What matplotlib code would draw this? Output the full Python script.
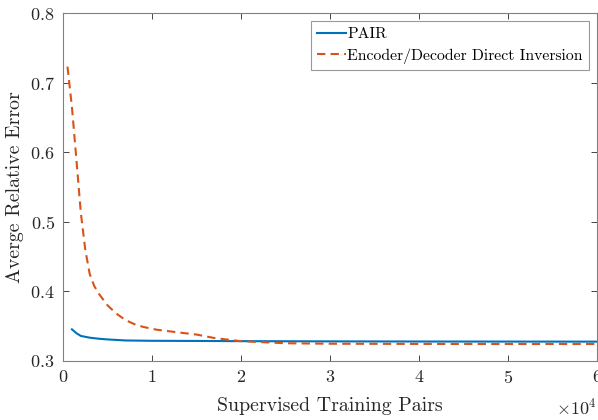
import matplotlib
matplotlib.use('Agg')
import matplotlib.pyplot as plt
from matplotlib.transforms import ScaledTranslation

plt.rcParams['font.family'] = 'serif'
plt.rcParams['font.serif'] = ['cmr10']
plt.rcParams['mathtext.fontset'] = 'cm'
plt.rcParams['axes.formatter.use_mathtext'] = True

# Supervised training pairs vs average relative error
pair_x = [1000, 1500, 2000, 3000, 4000, 5000, 7000, 10000, 15000, 20000, 30000, 40000, 50000, 60000]
pair_y = [0.3455, 0.340, 0.336, 0.3335, 0.332, 0.331, 0.3295, 0.329, 0.3288, 0.3285, 0.3282, 0.328, 0.3279, 0.3278]

enc_x = [500, 1000, 1500, 2000, 2500, 3000, 3500, 4000, 5000, 6000, 7000, 8000, 9000, 10500,
         13000, 15000, 17000, 20000, 25000, 30000, 40000, 50000, 60000]
enc_y = [0.723, 0.665, 0.59, 0.513, 0.46, 0.425, 0.408, 0.397, 0.38, 0.368, 0.359, 0.353, 0.349, 0.345,
         0.341, 0.338, 0.333, 0.3285, 0.3255, 0.3248, 0.3245, 0.3244, 0.3244]

fig = plt.figure(figsize=(5.98, 4.2), dpi=100)
ax = fig.add_axes([0.1054, 0.1405, 0.8926, 0.8285])

ax.plot(pair_x, pair_y, color='#0072BD', linewidth=1.5, label='PAIR')
ax.plot(enc_x, enc_y, color='#D95319', linewidth=1.5, linestyle=(0, (4, 2.5)),
        label='Encoder/Decoder Direct Inversion')

ax.set_xlim(0, 60000)
ax.set_ylim(0.3, 0.8)
ax.set_xticks([0, 10000, 20000, 30000, 40000, 50000, 60000])
ax.set_yticks([0.3, 0.4, 0.5, 0.6, 0.7, 0.8])
ax.ticklabel_format(style='sci', axis='x', scilimits=(4, 4))

ax.set_xlabel('Supervised Training Pairs', fontsize=14.3, color='#262626', labelpad=8)
ax.set_ylabel('Averge Relative Error', fontsize=14.3, color='#262626')

ax.tick_params(direction='in', top=True, right=True, labelsize=13, colors='#262626',
               length=4, width=0.6, pad=6)
ot = ax.xaxis.get_offset_text()
ot.set_fontsize(13)
ot.set_transform(ot.get_transform() + ScaledTranslation(0, -0.06, fig.dpi_scale_trans))
for sp in ax.spines.values():
    sp.set_color('#808080')
    sp.set_linewidth(0.8)

leg = ax.legend(loc='upper right', fontsize=11.3, frameon=True, fancybox=False,
                handlelength=1.8, handletextpad=0.1, borderpad=0.4, labelspacing=0.45,
                borderaxespad=0.5)
leg.get_frame().set_edgecolor('#808080')
leg.get_frame().set_linewidth(0.8)

plt.savefig('out.png', dpi=100)
